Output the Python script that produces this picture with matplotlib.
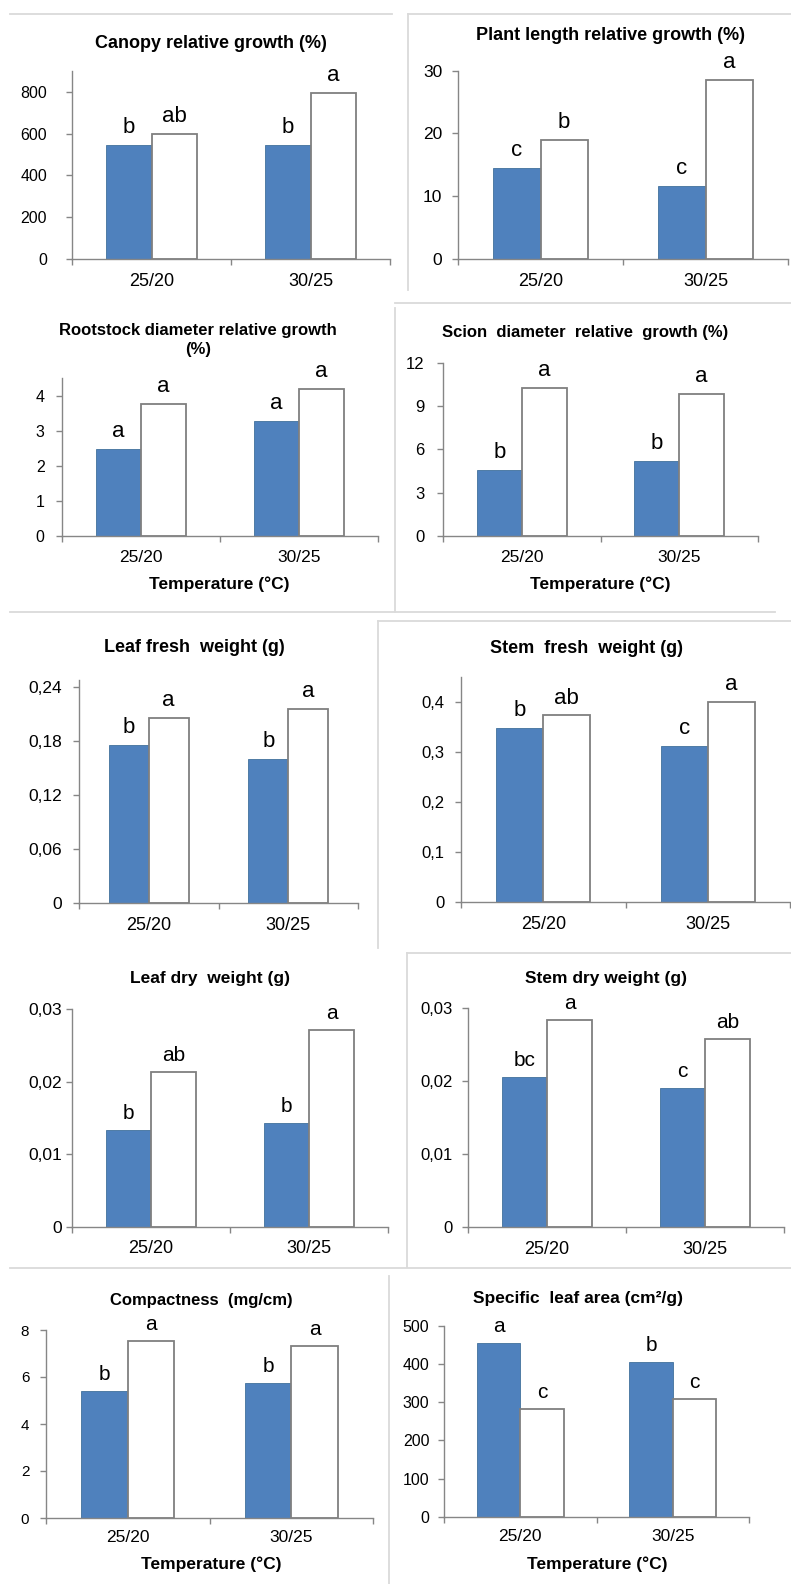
import matplotlib
matplotlib.use("Agg")
import matplotlib.pyplot as plt
from matplotlib.lines import Line2D
import numpy as np

plt.rcParams['font.family'] = ['Liberation Sans', 'DejaVu Sans']

W, H = 791, 1584

categories = ['25/20', '30/25']

titles = [
    'Canopy relative growth (%)',
    'Plant length relative growth (%)',
    'Rootstock diameter relative growth\n(%)',
    'Scion  diameter  relative  growth (%)',
    'Leaf fresh  weight (g)',
    'Stem  fresh  weight (g)',
    'Leaf dry  weight (g)',
    'Stem dry weight (g)',
    'Compactness  (mg/cm)',
    'Specific  leaf area (cm²/g)',
]

blue_values = [
    [545, 545],
    [14.5, 11.7],
    [2.49, 3.28],
    [4.57, 5.19],
    [0.176, 0.160],
    [0.348, 0.312],
    [0.0134, 0.0143],
    [0.0206, 0.0191],
    [5.42, 5.73],
    [455, 404],
]
white_values = [
    [600, 794],
    [19.0, 28.5],
    [3.76, 4.20],
    [10.27, 9.85],
    [0.206, 0.216],
    [0.373, 0.400],
    [0.0213, 0.0272],
    [0.0284, 0.0258],
    [7.55, 7.32],
    [281, 307],
]
blue_letters = [
    ['b', 'b'], ['c', 'c'], ['a', 'a'], ['b', 'b'], ['b', 'b'],
    ['b', 'c'], ['b', 'b'], ['bc', 'c'], ['b', 'b'], ['a', 'b'],
]
white_letters = [
    ['ab', 'a'], ['b', 'a'], ['a', 'a'], ['a', 'a'], ['a', 'a'],
    ['ab', 'a'], ['ab', 'a'], ['a', 'ab'], ['a', 'a'], ['c', 'c'],
]
y_ticks = [
    [0, 200, 400, 600, 800],
    [0, 10, 20, 30],
    [0, 1, 2, 3, 4],
    [0, 3, 6, 9, 12],
    [0, 0.06, 0.12, 0.18, 0.24],
    [0, 0.1, 0.2, 0.3, 0.4],
    [0, 0.01, 0.02, 0.03],
    [0, 0.01, 0.02, 0.03],
    [0, 2, 4, 6, 8],
    [0, 100, 200, 300, 400, 500],
]
y_tick_labels = [
    ['0', '200', '400', '600', '800'],
    ['0', '10', '20', '30'],
    ['0', '1', '2', '3', '4'],
    ['0', '3', '6', '9', '12'],
    ['0', '0,06', '0,12', '0,18', '0,24'],
    ['0', '0,1', '0,2', '0,3', '0,4'],
    ['0', '0,01', '0,02', '0,03'],
    ['0', '0,01', '0,02', '0,03'],
    ['0', '2', '4', '6', '8'],
    ['0', '100', '200', '300', '400', '500'],
]
y_max = [900, 30, 4.5, 12, 0.248, 0.45, 0.03, 0.03, 8, 500]
xlabel_text = [None, None, 'Temperature (°C)', 'Temperature (°C)', None, None,
               None, None, 'Temperature (°C)', 'Temperature (°C)']

# layout in pixels: (y-axis x, right end x, baseline y, axis top y)
boxes = [
    (72, 390, 259, 71),
    (458, 788, 259, 70.7),
    (62, 378, 536, 378),
    (443, 758, 536, 362.7),
    (79, 358, 903, 680),
    (461, 790, 901.7, 677),
    (72, 388, 1226.6, 1009.3),
    (468, 784, 1226.7, 1008.3),
    (46, 373, 1518, 1330),
    (444, 749, 1516.7, 1325.7),
]
title_pos = [
    (211, 43), (610, 35), (198, 340), (585, 333), (194, 647),
    (587, 648), (210, 979), (606, 979), (201, 1301), (578, 1298),
]
xlabel_pos = [None, None, (219, 584), (600, 584), None, None, None, None,
              (211, 1564), (597, 1564)]
letter_size = [16, 16, 16, 16, 16, 16, 15, 15, 15, 15]
tick_size = [11.5, 12.5, 11.5, 12, 12.5, 12, 12.5, 12, 11, 11.5]
tick_pad = [14, 7.2, 8.6, 9.4, 8, 8, 3, 7.2, 8, 6.5]
cat_size = [13, 13, 12.5, 12.5, 13, 13, 13, 13, 12.5, 12.5]
title_size = [13, 13, 12, 12, 13, 13, 12.5, 12.5, 12, 12.5]
cat_pad = [10, 10, 10, 10, 10, 10, 10, 10, 9, 9]

BLUE = '#4f81bd'
BLUE_EDGE = '#41719c'
AXC = '#868686'
BORDER = '#dadada'

fig = plt.figure(figsize=(W / 100, H / 100), dpi=100)
fig.patch.set_facecolor('white')

def fx(x):
    return x / W

def fy(y):
    return 1 - y / H

# light panel borders
border_lines = [
    ((10, 14), (392, 14)),
    ((408, 14), (408, 290)), ((408, 14), (791, 14)),
    ((395, 308), (395, 612)), ((10, 612), (394, 612)),
    ((395, 303), (791, 303)), ((396, 612), (775, 612)),
    ((378, 621), (378, 948)), ((378, 621), (791, 621)),
    ((407, 953), (407, 1267)), ((407, 953), (791, 953)),
    ((10, 1268), (791, 1268)),
    ((389, 1276), (389, 1584)),
]
for (xa, ya), (xb, yb_) in border_lines:
    fig.add_artist(Line2D([fx(xa), fx(xb)], [fy(ya), fy(yb_)], color=BORDER,
                          lw=1.3, transform=fig.transFigure))

w = 0.285
x = np.arange(len(categories))
for i in range(10):
    x0, x1, yb, yt = boxes[i]
    ax = fig.add_axes([fx(x0), fy(yb), (x1 - x0) / W, (yb - yt) / H])
    ax.set_facecolor('none')
    ax.bar(x - w / 2, blue_values[i], width=w, color=BLUE, edgecolor=BLUE_EDGE,
           linewidth=0.6, zorder=2)
    ax.bar(x + w / 2, white_values[i], width=w, color='white', edgecolor='#7f7f7f',
           linewidth=1.3, zorder=2)
    for j in range(len(categories)):
        ax.annotate(blue_letters[i][j], (x[j] - w / 2, blue_values[i][j]),
                    xytext=(0, 5), textcoords='offset points', ha='center',
                    va='bottom', fontsize=letter_size[i], color='black',
                    annotation_clip=False)
        ax.annotate(white_letters[i][j], (x[j] + w / 2, white_values[i][j]),
                    xytext=(0, 5), textcoords='offset points', ha='center',
                    va='bottom', fontsize=letter_size[i], color='black',
                    annotation_clip=False)
    ax.set_xlim(-0.5, len(categories) - 0.5)
    ax.set_ylim(0, y_max[i])
    ax.set_yticks(y_ticks[i])
    ax.set_yticklabels(y_tick_labels[i], fontsize=tick_size[i])
    ax.set_xticks(x)
    ax.set_xticklabels(categories, fontsize=cat_size[i])
    ax.set_xticks([-0.5, 0.5, 1.5], minor=True)
    ax.tick_params(axis='x', which='major', length=0, pad=cat_pad[i])
    ax.tick_params(axis='x', which='minor', length=4, width=1, color=AXC, direction='out')
    ax.tick_params(axis='y', length=4, width=1, color=AXC, direction='out',
                   pad=tick_pad[i])
    for s in ['top', 'right']:
        ax.spines[s].set_visible(False)
    for s in ['left', 'bottom']:
        ax.spines[s].set_color(AXC)
        ax.spines[s].set_linewidth(1.0)
    ax.spines['left'].set_zorder(3)
    ax.spines['bottom'].set_zorder(3)

    tx, ty = title_pos[i]
    fig.text(fx(tx), fy(ty), titles[i], ha='center', va='center',
             fontsize=title_size[i], fontweight='bold', linespacing=1.3)
    if xlabel_text[i]:
        lx, ly = xlabel_pos[i]
        fig.text(fx(lx), fy(ly), xlabel_text[i], ha='center', va='center',
                 fontsize=12.5, fontweight='bold')

fig.savefig('out.png', dpi=100, facecolor='white')
